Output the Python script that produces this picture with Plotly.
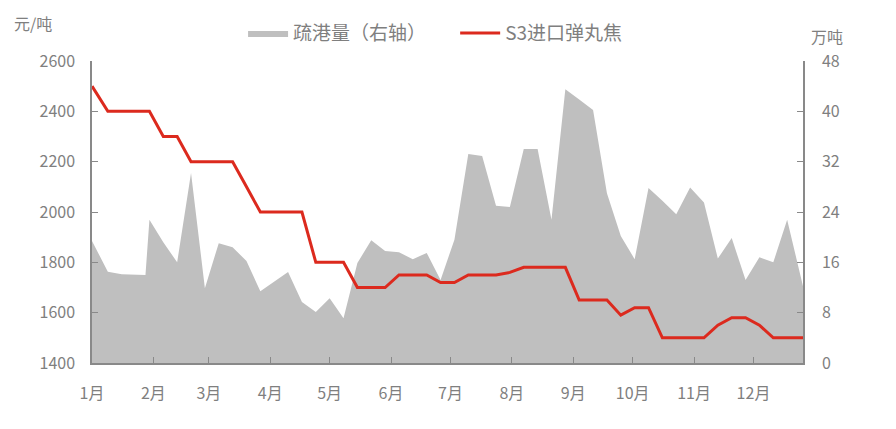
import plotly.graph_objects as go

# ---- data ----
dates = [
    "2019-01-01", "2019-01-09", "2019-01-16", "2019-01-23", "2019-01-28", "2019-01-30",
    "2019-02-06", "2019-02-13", "2019-02-20", "2019-02-27", "2019-03-06", "2019-03-13",
    "2019-03-20", "2019-03-27", "2019-04-03", "2019-04-10", "2019-04-17", "2019-04-24",
    "2019-05-01", "2019-05-08", "2019-05-15", "2019-05-22", "2019-05-29", "2019-06-05",
    "2019-06-12", "2019-06-19", "2019-06-26", "2019-07-03", "2019-07-10", "2019-07-17",
    "2019-07-24", "2019-07-31", "2019-08-07", "2019-08-14", "2019-08-21", "2019-08-28",
    "2019-09-04", "2019-09-11", "2019-09-18", "2019-09-25", "2019-10-02", "2019-10-09",
    "2019-10-16", "2019-10-23", "2019-10-30", "2019-11-06", "2019-11-13", "2019-11-20",
    "2019-11-27", "2019-12-04", "2019-12-11", "2019-12-18", "2019-12-26",
]

# 疏港量 (万吨, right axis)
shugang = [
    19.4, 14.5, 14.1, 14.0, 14.0, 22.75,
    19.2, 16.0, 30.2, 11.9, 19.05, 18.4,
    16.2, 11.4, 12.9, 14.45, 9.7, 8.1,
    10.3, 7.1, 15.9, 19.5, 17.8, 17.6,
    16.5, 17.5, 13.2, 19.6, 33.2, 32.9,
    25.0, 24.8, 34.0, 34.0, 22.75, 43.5,
    41.9, 40.2, 27.0, 20.2, 16.5, 27.8,
    25.8, 23.65, 27.9, 25.5, 16.6, 19.85,
    13.2, 16.8, 16.0, 22.75, 12.2,
]

# S3进口弹丸焦 (元/吨, left axis)
s3_price = [
    2500, 2400, 2400, 2400, 2400, 2400,
    2300, 2300, 2200, 2200, 2200, 2200,
    2100, 2000, 2000, 2000, 2000, 1800,
    1800, 1800, 1700, 1700, 1700, 1750,
    1750, 1750, 1720, 1720, 1750, 1750,
    1750, 1760, 1780, 1780, 1780, 1780,
    1650, 1650, 1650, 1590, 1620, 1620,
    1500, 1500, 1500, 1500, 1550, 1580,
    1580, 1550, 1500, 1500, 1500,
]

month_ticks = ["2019-%02d-01" % m for m in range(1, 13)]
month_labels = ["%d月" % m for m in range(1, 13)]

left_ticks = [1400, 1600, 1800, 2000, 2200, 2400, 2600]
right_ticks = [0, 8, 16, 24, 32, 40, 48]

# ---- style ----
FONT = "Noto Sans CJK SC"
TXT = "#7f7f7f"
AXC = "#898989"
GRAY = "#bfbfbf"
RED = "#dc2a1e"

# page has an 8px body margin: figure is drawn at (8, 8) in the window
OFF = 8
W, H = 896 - OFF, 429 - OFF
PX0, PX1 = 92.0, 802.7      # plot area in window pixels
PY0, PY1 = 61.0, 363.3
L = PX0 - OFF
T = PY0 - OFF
R = W - (PX1 - OFF)
B = H - (PY1 - OFF)

def px2paper(x, y):
    return (x - PX0) / (PX1 - PX0), (PY1 - y) / (PY1 - PY0)

fig = go.Figure()
fig.add_trace(go.Scatter(
    x=dates, y=shugang, name="疏港量（右轴）", mode="lines",
    fill="tozeroy", fillcolor=GRAY, line=dict(width=0, color=GRAY),
    yaxis="y", legend="legend", hoverinfo="skip",
))
fig.add_trace(go.Scatter(
    x=dates, y=s3_price, name="S3进口弹丸焦", mode="lines",
    line=dict(width=3, color=RED), yaxis="y2", legend="legend2",
))

lg_y = px2paper(0, 33)[1]
legend_common = dict(
    orientation="h", xanchor="left", yanchor="middle", y=lg_y,
    font=dict(size=19, color=TXT, family=FONT), bgcolor="rgba(0,0,0,0)",
    itemwidth=40, borderwidth=0,
)

axis_common = dict(
    ticks="inside", ticklen=6, tickcolor=AXC, tickwidth=1,
    showline=True, linecolor=AXC, linewidth=1.5,
    showgrid=False, zeroline=False, automargin=False,
    tickfont=dict(size=16, color=TXT, family=FONT),
)

fig.update_layout(
    width=W, height=H,
    margin=dict(l=L, r=R, t=T, b=B, autoexpand=False),
    paper_bgcolor="white", plot_bgcolor="white",
    font=dict(family=FONT, size=16, color=TXT),
    showlegend=True,
    legend=dict(x=px2paper(243, 0)[0], **legend_common),
    legend2=dict(x=px2paper(455, 0)[0], **legend_common),
    xaxis=dict(
        type="date", range=[dates[0], dates[-1]],
        tickvals=month_ticks, ticktext=month_labels,
        ticklabelstandoff=15, **axis_common,
    ),
    yaxis=dict(
        side="right", range=[0, 48], tickvals=right_ticks,
        ticklabelstandoff=14, **axis_common,
    ),
    yaxis2=dict(
        side="left", overlaying="y", range=[1400, 2600], tickvals=left_ticks,
        ticklabelstandoff=12, **axis_common,
    ),
)

ax, ay = px2paper(33, 23)
fig.add_annotation(text="元/吨", xref="paper", yref="paper", x=ax, y=ay,
                   xanchor="center", yanchor="middle", showarrow=False,
                   font=dict(size=16, color=TXT, family=FONT))
bx, by = px2paper(827, 36)
fig.add_annotation(text="万吨", xref="paper", yref="paper", x=bx, y=by,
                   xanchor="center", yanchor="middle", showarrow=False,
                   font=dict(size=16, color=TXT, family=FONT))

fig.write_html("out.html")
